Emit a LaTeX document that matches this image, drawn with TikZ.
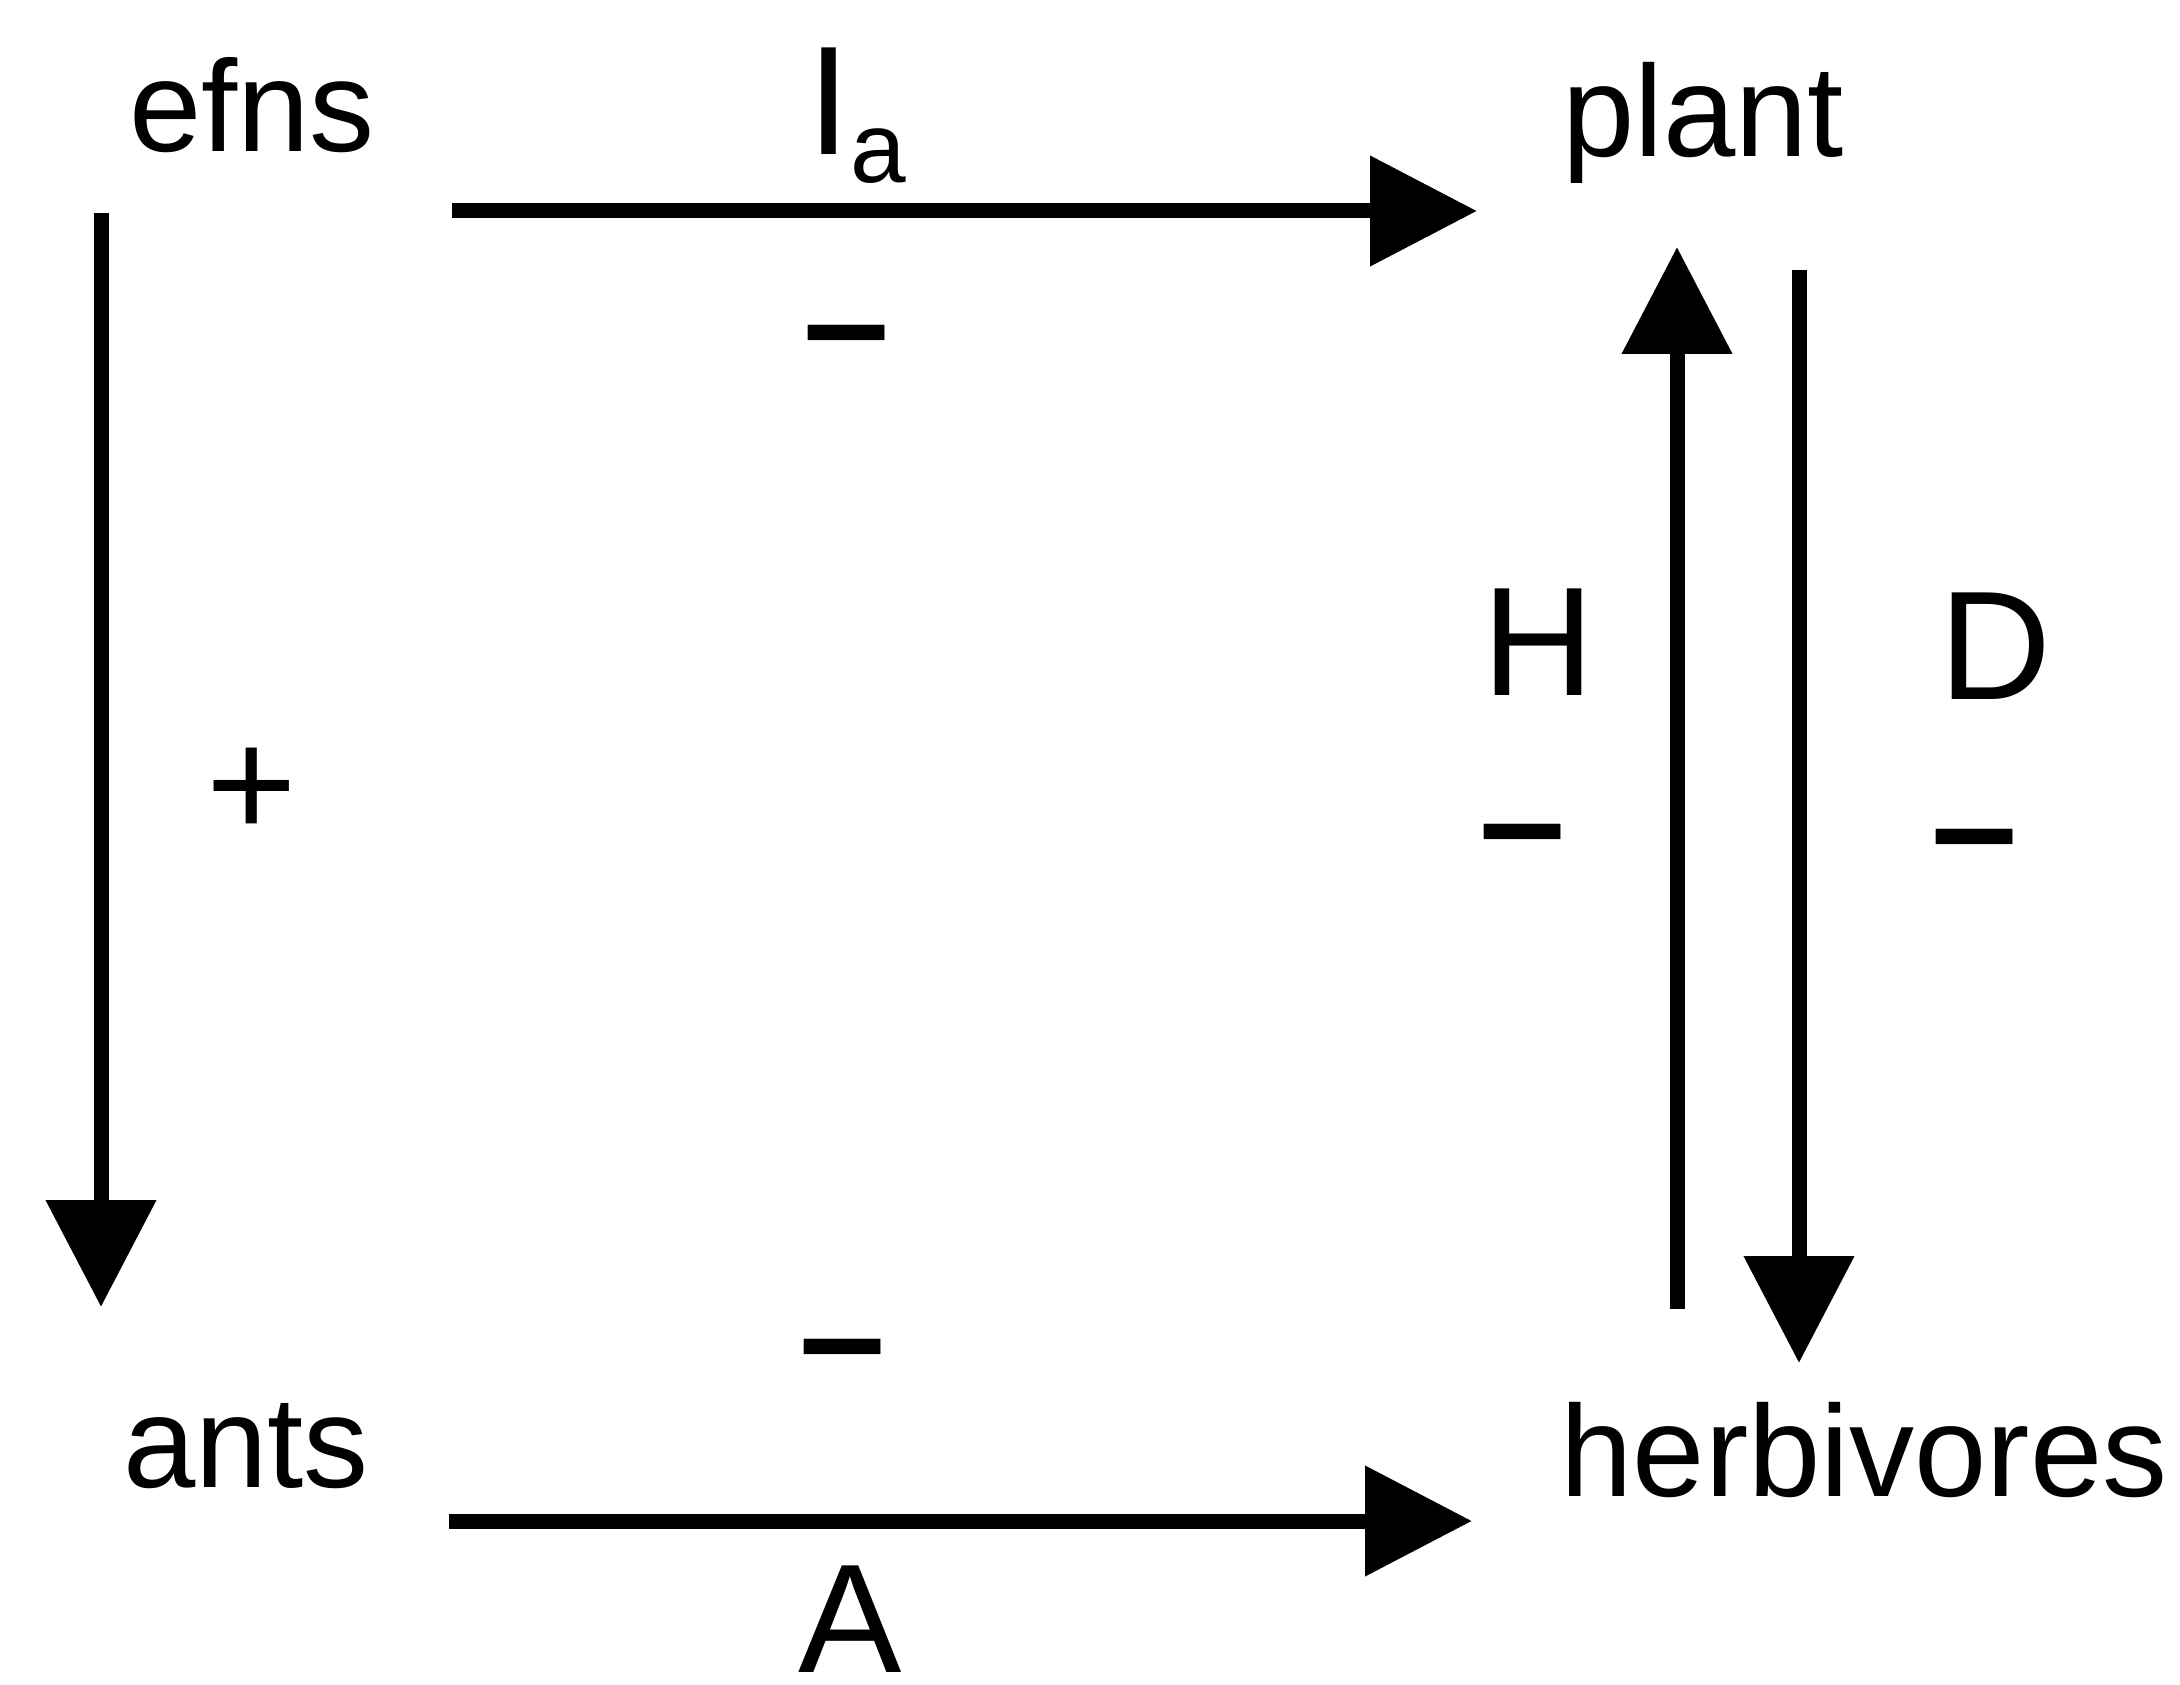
\documentclass[tikz,border=0pt]{standalone}
\usepackage{fontspec}
\setmainfont{Liberation Sans}
\usetikzlibrary{arrows.meta}
\begin{document}
\begin{tikzpicture}[x=0.5pt,y=-0.5pt,
  lbl/.style={inner sep=0pt, anchor=base, font=\fontsize{65pt}{65pt}\selectfont},
  sym/.style={inner sep=0pt, anchor=base, font=\fontsize{77.5pt}{77.5pt}\selectfont},
  sign/.style={sym, font=\fontsize{77.5pt}{77.5pt}\selectfont\bfseries},
  conn/.style={line width=7.5pt, -{Triangle[length=53.5pt,width=53.5pt]}}]
\path[use as bounding box, fill=white] (0,0) rectangle (2180,1685);

% main labels
\node[lbl] (efns) at (252,152) {efns};
\node[lbl] (plant) at (1703,157) {plant};
\node[lbl] (ants) at (246,1487) {ants};
\node[lbl] (herb) at (1864,1496) {herbivores};

% arrow labels
\node[sym, anchor=base west] (Ia) at (807,155) {I\raisebox{-14pt}{\fontsize{50pt}{50pt}\selectfont a}};
\node[sign] (mtop) at (847,374) {\textendash};
\node[sym] (plus) at (252,837) {+};
\node[sign] (mbot) at (843,1388) {\textendash};
\node[sym] (A) at (850,1672) {A};
\node[sym] (H) at (1538,695) {H};
\node[sign] (mH) at (1523,873) {\textendash};
\node[sym] (D) at (1995,699) {D};
\node[sign] (mD) at (1975,878) {\textendash};

% connector end points
\coordinate (efnsR) at (452,211);
\coordinate (plantL) at (1477,211);
\coordinate (efnsB) at (101,213);
\coordinate (antsT) at (101,1307);
\coordinate (antsR) at (449,1521);
\coordinate (herbL) at (1472,1521);
\coordinate (herbH) at (1677,1309);
\coordinate (plantH) at (1677,247);
\coordinate (plantD) at (1799,270);
\coordinate (herbD) at (1799,1363);

\draw[conn] (efnsR) -- (plantL);
\draw[conn] (efnsB) -- (antsT);
\draw[conn] (antsR) -- (herbL);
\draw[conn] (herbH) -- (plantH);
\draw[conn] (plantD) -- (herbD);
\end{tikzpicture}
\end{document}
